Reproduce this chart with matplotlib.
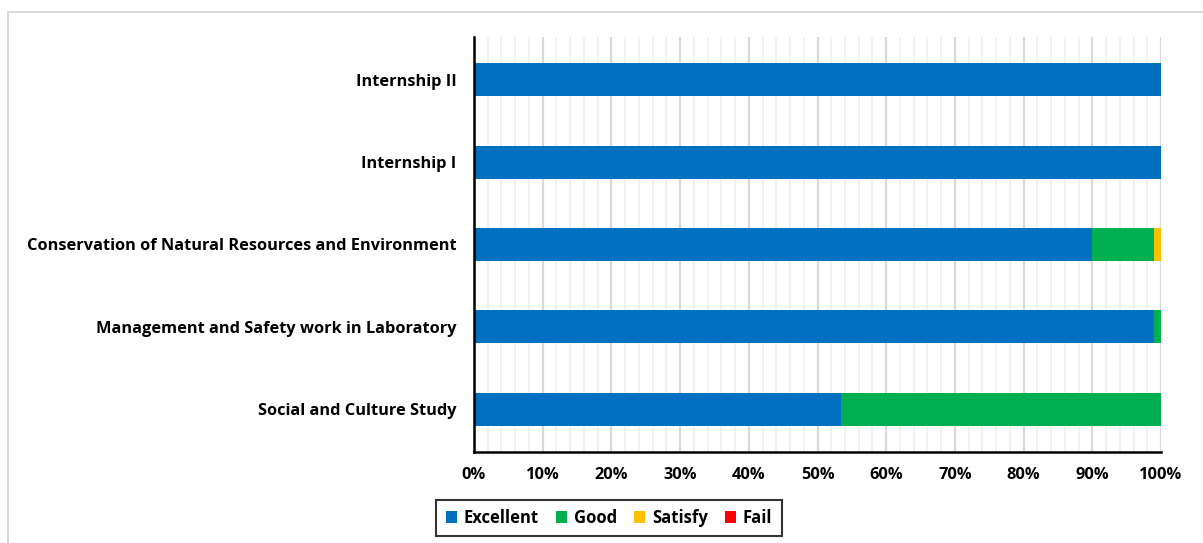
import matplotlib
matplotlib.use("Agg")
import matplotlib.pyplot as plt
from matplotlib.patches import Rectangle
from matplotlib.ticker import MultipleLocator, FuncFormatter

plt.rcParams['font.family'] = ['Open Sans', 'DejaVu Sans']

categories = ["Social and Culture Study",
              "Management and Safety work in Laboratory",
              "Conservation of Natural Resources and Environment",
              "Internship I",
              "Internship II"]
series = ["Excellent", "Good", "Satisfy", "Fail"]
excellent = [53.4, 99.0, 90.0, 100.0, 100.0]
good = [46.6, 1.0, 9.0, 0.0, 0.0]
satisfy = [0.0, 0.0, 1.0, 0.0, 0.0]
fail = [0.0, 0.0, 0.0, 0.0, 0.0]
colors = ["#0070C0", "#00B050", "#FFC000", "#FF0000"]

fig = plt.figure(figsize=(12.03, 5.43), dpi=100)
fig.patches.append(Rectangle((8/1203, -0.1), 1.1, 1.1 - 12/543, transform=fig.transFigure,
                             fill=False, edgecolor="#d9d9d9", linewidth=1.5))
ax = fig.add_axes([474/1203, 1 - 452/543, 687/1203, 415/543])

left = [0.0] * len(categories)
for name, vals, c in zip(series, [excellent, good, satisfy, fail], colors):
    ax.barh(range(len(categories)), vals, left=left, height=0.4, color=c, label=name, zorder=3)
    left = [l + v for l, v in zip(left, vals)]

ax.set_xlim(0, 100)
ax.set_ylim(-0.52, 4.52)
ax.set_yticks(range(len(categories)))
ax.set_yticklabels(categories, fontsize=11.8, fontweight="bold")
ax.xaxis.set_major_locator(MultipleLocator(10))
ax.xaxis.set_minor_locator(MultipleLocator(2))
ax.xaxis.set_major_formatter(FuncFormatter(lambda v, p: f"{int(round(v))}%"))
for lbl in ax.get_xticklabels():
    lbl.set_fontweight("bold")
    lbl.set_fontsize(11.8)
ax.tick_params(axis="y", length=0, pad=12.5)
ax.tick_params(axis="x", length=0, pad=11)
ax.tick_params(axis="x", which="minor", length=0)
ax.grid(axis="x", which="major", color="#d9d9d9", linewidth=1.6, zorder=0)
ax.grid(axis="x", which="minor", color="#f0f0f0", linewidth=1.2, zorder=0)
for s in ["top", "right"]:
    ax.spines[s].set_visible(False)
for s in ["left", "bottom"]:
    ax.spines[s].set_color("black")
    ax.spines[s].set_linewidth(1.8)
    ax.spines[s].set_zorder(4)

h, l = ax.get_legend_handles_labels()
leg = fig.legend(h, l, loc="center", bbox_to_anchor=(609/1203, 1 - 518/543), ncol=4,
                 frameon=True, fancybox=False, edgecolor="black",
                 handlelength=0.7, handleheight=0.7, handletextpad=0.4, columnspacing=1.0,
                 borderpad=0.55, prop={"weight": "bold", "size": 12})
leg.get_frame().set_linewidth(1.5)

fig.savefig("out.png", dpi=100)
